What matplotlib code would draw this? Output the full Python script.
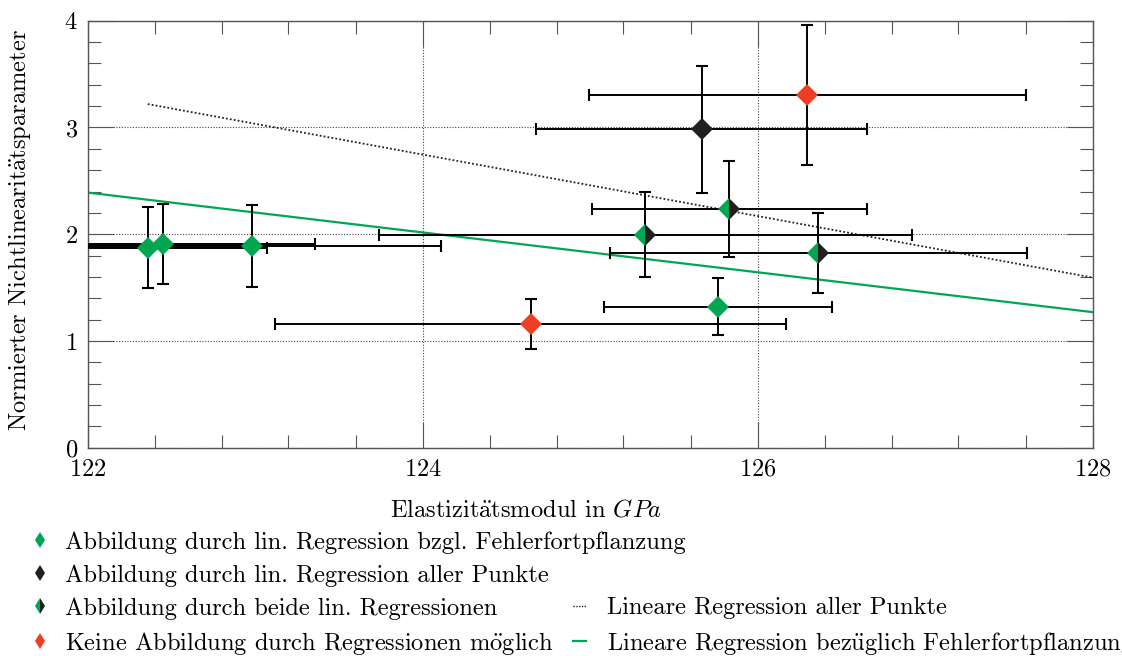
import matplotlib
matplotlib.use("Agg")
import matplotlib.pyplot as plt
from matplotlib.lines import Line2D
from matplotlib.ticker import MultipleLocator

# --- measurement data -------------------------------------------------------
# Elastizitätsmodul (GPa) with uncertainty
e_modul = [122.36, 122.45, 122.98, 124.645, 125.764, 126.298, 125.666, 125.831, 125.33, 126.364]
e_err = [0.71, 0.909, 1.133, 1.528, 0.681, 1.306, 0.987, 0.82, 1.59, 1.246]
# normalised nonlinearity parameter with uncertainty
beta = [1.875, 1.908, 1.891, 1.157, 1.321, 3.304, 2.981, 2.236, 1.994, 1.821]
beta_err = [0.377, 0.375, 0.383, 0.233, 0.266, 0.656, 0.598, 0.447, 0.398, 0.375]
# which regression reproduces the point
group = ["fehler", "fehler", "fehler", "keine", "fehler", "keine", "alle", "beide", "beide", "beide"]

# regression lines (end points)
reg_alle_x = [122.36, 128.0]
reg_alle_y = [3.219, 1.594]
reg_fehler_x = [122.0, 128.0]
reg_fehler_y = [2.390, 1.270]

# --- style --------------------------------------------------------------------
GREEN = "#00a651"
BLACK = "#231f20"
RED = "#ef3e23"
AXCOL = "#555555"

plt.rcParams["font.family"] = ["cmr10", "DejaVu Serif"]
plt.rcParams["mathtext.fontset"] = "cm"
plt.rcParams["axes.formatter.use_mathtext"] = True
FS = 17.6
PX = FS * 100 / 72  # font size in pixels


def tex_umlaut(s):
    for ch, base in (("ä", "a"), ("ö", "o"), ("ü", "u")):
        s = s.replace(ch, r"$\ddot{\mathrm{%s}}$" % base)
    return s


fig = plt.figure(figsize=(11.22, 6.56), dpi=100)
ax = fig.add_axes([87.5 / 1122, 1 - 447.7 / 656, 1005 / 1122, 427 / 656])

ax.set_xlim(122, 128)
ax.set_ylim(0, 4)
ax.xaxis.set_major_locator(MultipleLocator(2))
ax.xaxis.set_minor_locator(MultipleLocator(0.4))
ax.yaxis.set_major_locator(MultipleLocator(1))
ax.yaxis.set_minor_locator(MultipleLocator(0.2))
ax.tick_params(which="both", direction="in", top=True, right=True,
               color=AXCOL, width=0.8, labelsize=FS)
ax.tick_params(which="major", length=19)
ax.tick_params(which="minor", length=9.5)
ax.tick_params(axis="x", which="major", pad=8)
ax.tick_params(axis="y", which="major", pad=7)
for sp in ax.spines.values():
    sp.set_color(AXCOL)
    sp.set_linewidth(1.0)
ax.grid(True, which="major", linestyle=(0, (1, 1.5)), color="#444444", linewidth=0.8)
ax.set_axisbelow(True)

# regression lines
ax.plot(reg_alle_x, reg_alle_y, linestyle=(0, (1, 1.2)), color=BLACK, lw=1.3, zorder=2)
ax.plot(reg_fehler_x, reg_fehler_y, color=GREEN, lw=1.6, zorder=2)

# error bars and markers
face = {"fehler": (GREEN, GREEN), "alle": (BLACK, BLACK), "beide": (GREEN, BLACK), "keine": (RED, RED)}
for x, xe, y, ye, g in zip(e_modul, e_err, beta, beta_err, group):
    ax.errorbar(x, y, xerr=xe, yerr=ye, fmt="none", ecolor="black",
                elinewidth=1.4, capsize=4.2, capthick=1.5, zorder=3)
    fc, fca = face[g]
    ax.plot(x, y, linestyle="none", marker="D", markersize=10.8,
            markeredgewidth=0, fillstyle="left",
            markerfacecolor=fc, markerfacecoloralt=fca, zorder=4)

ax.set_xticks([122, 124, 126, 128])
ax.set_yticks([0, 1, 2, 3, 4])

ax.set_xlabel(tex_umlaut("Elastizitätsmodul in ") + r"$GPa$", fontsize=FS)
ax.xaxis.set_label_coords((526.5 - 87.5) / 1005, -(510 - 447.7) / 427)
ax.xaxis.label.set_va("center")
ax.set_ylabel(tex_umlaut("Normierter Nichtlinearitätsparameter"), fontsize=FS)
ax.yaxis.set_label_coords(-(87.5 - 20) / 1005, (447.7 - 230) / 427)
ax.yaxis.label.set_va("center")

# legend: point categories (left block)
ms_leg = 8.5
point_handles = [
    Line2D([], [], ls="none", marker="d", ms=ms_leg, mew=0, color=GREEN),
    Line2D([], [], ls="none", marker="d", ms=ms_leg, mew=0, color=BLACK),
    Line2D([], [], ls="none", marker="d", ms=ms_leg, mew=0, fillstyle="left",
           markerfacecolor=GREEN, markerfacecoloralt=BLACK),
    Line2D([], [], ls="none", marker="d", ms=ms_leg, mew=0, color=RED),
]
point_labels = [
    tex_umlaut("Abbildung durch lin. Regression bzgl. Fehlerfortpflanzung"),
    "Abbildung durch lin. Regression aller Punkte",
    "Abbildung durch beide lin. Regressionen",
    tex_umlaut("Keine Abbildung durch Regressionen möglich"),
]
hl1 = 0.8
fig.legend(point_handles, point_labels, loc="upper left",
           bbox_to_anchor=((40 - hl1 * PX / 2) / 1122, 1 - 531 / 656), frameon=False,
           fontsize=FS, handlelength=hl1, handletextpad=(65 - 40 - hl1 * PX / 2) / PX,
           labelspacing=0.43, borderpad=0, borderaxespad=0)

# legend: regression lines (right block, rows 3 and 4)
line_handles = [
    Line2D([], [], ls=(0, (1, 1)), lw=1.0, color=BLACK),
    Line2D([], [], ls="-", lw=1.6, color=GREEN),
]
line_labels = [
    "Lineare Regression aller Punkte",
    tex_umlaut("Lineare Regression bezüglich Fehlerfortpflanzung"),
]
hl2 = 0.55
fig.legend(line_handles, line_labels, loc="upper left",
           bbox_to_anchor=(573 / 1122, 1 - 597 / 656), frameon=False,
           fontsize=FS, handlelength=hl2, handletextpad=(607 - 573 - hl2 * PX) / PX,
           labelspacing=0.43, borderpad=0, borderaxespad=0)

fig.savefig("out.png", dpi=100)
